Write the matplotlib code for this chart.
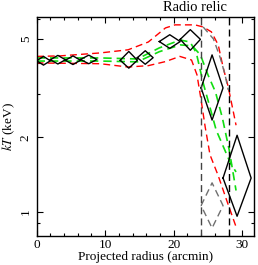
import matplotlib
matplotlib.use("Agg")
import matplotlib.pyplot as plt
from matplotlib.ticker import FixedLocator, NullFormatter, FixedFormatter

plt.rcParams['font.family'] = ['Liberation Serif', 'DejaVu Serif']
plt.rcParams['mathtext.fontset'] = 'stix'

# black data bins: x range, kT, lower, upper
bin_lo = [0.0, 2.0, 4.2, 6.4, 12.2, 14.7, 17.9, 20.95, 24.0, 27.2]
bin_hi = [2.0, 4.2, 6.4, 8.8, 14.7, 17.0, 20.95, 23.9, 27.2, 31.3]
kt = [4.08, 4.12, 4.10, 4.13, 4.10, 4.20, 4.88, 4.98, 3.17, 1.37]
kt_lo = [3.92, 3.96, 3.94, 3.97, 3.81, 3.95, 4.58, 4.50, 2.35, 0.96]
kt_hi = [4.25, 4.29, 4.27, 4.30, 4.45, 4.48, 5.20, 5.45, 4.31, 2.04]

# alternative (grey) measurement
alt_lo, alt_hi = 24.0, 27.2
alt_kt, alt_kt_lo, alt_kt_hi = 1.06, 0.86, 1.31

# model curves
red_up_x = [0, 3.4, 9.3, 13.35, 16.3, 18.8, 20.2, 23.1, 24.3, 25.5, 26.5, 27.2, 27.96, 29.1]
red_up_y = [4.25, 4.27, 4.39, 4.52, 4.86, 5.54, 5.70, 5.70, 5.59, 5.34, 4.73, 3.85, 3.20, 2.24]
red_lo_x = [0, 9.3, 13.35, 16.3, 18.8, 20.9, 22.6, 23.4, 24.0, 24.6, 25.3, 26.5, 27.7, 29.1]
red_lo_y = [4.0, 3.97, 3.85, 3.90, 4.05, 4.25, 4.11, 3.58, 2.83, 2.20, 1.70, 1.40, 1.12, 0.87]
green_a_x = [0, 9.3, 14.7, 17.9, 20.95, 22.4, 23.3, 24.3, 25.4, 26.2, 28.3, 29.1]
green_a_y = [4.19, 4.19, 4.15, 4.60, 4.95, 4.86, 4.39, 3.32, 2.58, 2.14, 1.57, 1.45]
green_b_x = [0, 9.3, 14.7, 17.9, 20.95, 22.7, 23.9, 25.0, 26.1, 27.1, 28.1, 29.1]
green_b_y = [4.07, 4.07, 4.04, 4.44, 4.73, 4.69, 4.31, 3.58, 3.05, 2.40, 1.78, 1.22]
grey_x = [24.3, 25.8, 26.8, 27.5, 27.96]
grey_y = [5.59, 5.0, 4.19, 3.58, 3.11]

relic_edges = [24, 28]

fig = plt.figure(figsize=(2.58, 2.65), dpi=100)
ax = fig.add_axes([0.142, 0.11, 0.842, 0.825])

ax.plot(red_up_x, red_up_y, color='red', ls=(0, (5, 3)), lw=1)
ax.plot(red_lo_x, red_lo_y, color='red', ls=(0, (5, 3)), lw=1)
ax.plot(green_a_x, green_a_y, color='#11dd11', ls=(0, (5, 3)), lw=1.2)
ax.plot(green_b_x, green_b_y, color='#11dd11', ls=(0, (5, 3)), lw=1.2)
ax.plot(grey_x, grey_y, color='#707070', ls=(0, (5, 3)), lw=1)

for lo, hi, k, kl, kh in zip(bin_lo, bin_hi, kt, kt_lo, kt_hi):
    c = (lo + hi) / 2
    ax.plot([lo, c, hi, c, lo], [k, kh, k, kl, k], color='black', lw=1)

c = (alt_lo + alt_hi) / 2
ax.plot([alt_lo, c, alt_hi, c, alt_lo], [alt_kt, alt_kt_hi, alt_kt, alt_kt_lo, alt_kt],
        color='#707070', ls=(0, (5, 3)), lw=1)

ax.axvline(relic_edges[0], color='#444444', ls=(0, (5, 3)), lw=1)
ax.axvline(relic_edges[1], color='black', ls=(0, (5, 3)), lw=1)

ax.set_yscale('log')
ax.set_xlim(0, 31.7)
ax.set_ylim(0.8, 6.12)

ax.yaxis.set_major_locator(FixedLocator([1, 2, 5]))
ax.yaxis.set_major_formatter(FixedFormatter(['1', '2', '5']))
ax.yaxis.set_minor_locator(FixedLocator([0.9, 3, 4, 6]))
ax.yaxis.set_minor_formatter(NullFormatter())
ax.set_xticks([0, 10, 20, 30])
ax.set_xticks([2, 4, 6, 8, 12, 14, 16, 18, 22, 24, 26, 28], minor=True)

ax.tick_params(which='both', direction='in', top=True, right=True, labelsize=9.5, width=0.8)
ax.tick_params(which='major', length=4)
ax.tick_params(which='minor', length=2.5)
ax.tick_params(axis='x', pad=2.5)
for lab in ax.get_yticklabels():
    lab.set_rotation(90)
    lab.set_va('center')
for s in ax.spines.values():
    s.set_linewidth(1)

ax.set_xlabel('Projected radius (arcmin)', fontsize=9.5, labelpad=0)
ax.set_ylabel(r'$kT$ (keV)', fontsize=9.5, labelpad=2)
ax.text(23.1, 6.3, 'Radio relic', ha='center', va='bottom', fontsize=10.5)

fig.savefig('out.png', dpi=100)
